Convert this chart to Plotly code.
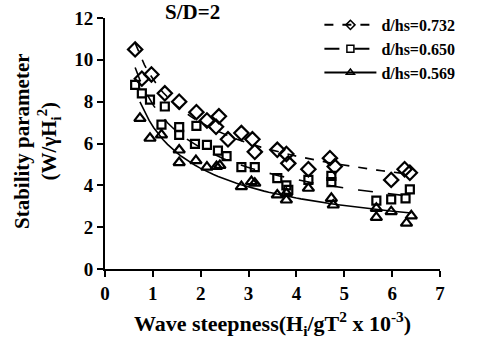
import numpy as np
import plotly.graph_objects as go

# ---- data ----
x_732 = [0.63, 0.77, 0.97, 1.25, 1.55, 1.91, 2.13, 2.32, 2.38, 2.57, 2.85, 3.08, 3.13,
         3.60, 3.79, 3.83, 4.25, 4.70, 4.80, 5.98, 6.26, 6.37]
y_732 = [10.5, 9.1, 9.3, 8.4, 8.0, 7.5, 7.1, 6.8, 7.3, 6.2, 6.5, 6.2, 5.6,
         5.7, 5.5, 5.05, 4.77, 5.3, 4.9, 4.26, 4.77, 4.6]

x_650 = [0.63, 0.77, 0.94, 1.25, 1.18, 1.55, 1.55, 1.91, 1.88, 2.13, 2.36, 2.54, 2.85,
         3.13, 3.60, 3.79, 3.83, 4.25, 4.73, 4.73, 5.67, 5.98, 6.28, 6.37]
y_650 = [8.8, 8.4, 8.1, 7.77, 6.9, 6.78, 6.41, 6.84, 5.98, 5.93, 5.66, 5.4, 4.87,
         4.87, 4.34, 4.0, 3.78, 4.26, 4.45, 4.15, 3.27, 3.33, 3.38, 3.81]

x_569 = [0.73, 0.94, 1.18, 1.55, 1.55, 1.90, 2.13, 2.33, 2.40, 2.85, 3.06, 3.13, 3.60,
         3.79, 3.79, 4.25, 4.73, 4.77, 5.67, 5.67, 5.98, 6.30, 6.40]
y_569 = [7.2, 6.25, 6.41, 5.69, 5.09, 5.18, 4.87, 4.9, 4.95, 3.94, 4.18, 4.1, 3.54,
         3.62, 3.3, 3.86, 3.38, 3.06, 2.9, 2.47, 2.74, 2.19, 2.54]

series_names = ["d/hs=0.732", "d/hs=0.650", "d/hs=0.569"]
x_ticks = [0, 1, 2, 3, 4, 5, 6, 7]
y_ticks = [0, 2, 4, 6, 8, 10, 12]

FONT = "Liberation Serif, Times New Roman, serif"

series = [
    (x_732, y_732, series_names[0], "diamond-open", 11, "dash"),
    (x_650, y_650, series_names[1], "square-open", 8, "longdash"),
    (x_569, y_569, series_names[2], "triangle-up-open", 10, "solid"),
]

fig = go.Figure()
for xs, ys, name, sym, sz, dash in series:
    xs_a = np.array(xs)
    ys_a = np.array(ys)
    # power-law trendline fitted to the points
    b, lna = np.polyfit(np.log(xs_a), np.log(ys_a), 1)
    xf = np.linspace(xs_a.min(), xs_a.max(), 60)
    yf = np.exp(lna) * xf ** b
    fig.add_trace(go.Scatter(x=xf, y=yf, mode="lines", showlegend=False,
                             line=dict(color="black", width=1.6, dash=dash),
                             hoverinfo="skip"))
    fig.add_trace(go.Scatter(x=xs, y=ys, mode="markers", showlegend=False,
                             marker=dict(symbol=sym, size=sz, color="black",
                                         line=dict(width=2.2, color="black"))))
    # legend sample
    fig.add_trace(go.Scatter(x=[None], y=[None], mode="lines+markers", name=name,
                             line=dict(color="black", width=2, dash=dash),
                             marker=dict(symbol=sym, size=7, color="black",
                                         line=dict(width=1.5, color="black"))))

fig.update_layout(
    width=479, height=345,
    margin=dict(l=105, r=39, t=18, b=76, autoexpand=False),
    paper_bgcolor="white", plot_bgcolor="white",
    font=dict(family=FONT, color="black", size=19, weight="bold"),
    showlegend=True,
    legend=dict(x=0.64, y=1.04, xanchor="left", yanchor="top",
                bgcolor="rgba(0,0,0,0)", font=dict(size=16, family=FONT, weight="bold"),
                itemwidth=52, tracegroupgap=0),
    xaxis=dict(range=[0, 7], tickvals=x_ticks, showgrid=False, zeroline=False,
               showline=True, linecolor="black", linewidth=2,
               ticks="outside", ticklen=6, tickwidth=2, tickcolor="black",
               tickfont=dict(size=19, family=FONT, weight="bold"),
               title=dict(text="Wave steepness(H<sub>i</sub>/gT<sup>2</sup> x 10<sup>-3</sup>)",
                          font=dict(size=22, family=FONT, weight="bold"), standoff=13)),
    yaxis=dict(range=[0, 12], tickvals=y_ticks, showgrid=False, zeroline=False,
               showline=True, linecolor="black", linewidth=2,
               ticks="outside", ticklen=6, tickwidth=2, tickcolor="black",
               tickfont=dict(size=19, family=FONT, weight="bold")),
    annotations=[
        dict(text="Stability parameter<br>(W/γH<sub>i</sub><sup>2</sup>)", textangle=-90,
             xref="paper", yref="paper", x=-0.203, y=0.51, xanchor="center", yanchor="middle",
             showarrow=False, font=dict(size=21, family=FONT, weight="bold")),
        dict(text="S/D=2", xref="paper", yref="paper", x=0.26, y=1.025,
             xanchor="center", yanchor="middle", showarrow=False,
             font=dict(size=21, family=FONT, weight="bold")),
    ],
)

fig.write_html("out.html")
